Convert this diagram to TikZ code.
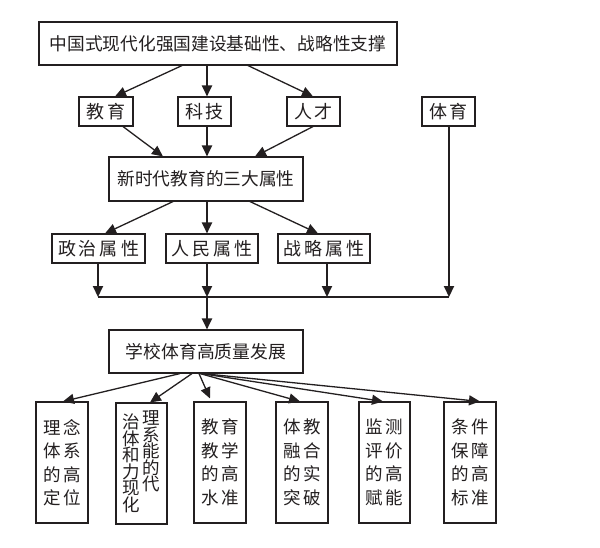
\documentclass[tikz,border=0pt]{standalone}
\usepackage{fontspec}
\newfontfamily\cjk{Noto Sans CJK SC}
\usetikzlibrary{arrows.meta,calc}
\newcommand\gp{\hspace{3pt}}
\newcommand\bg{\hspace{2.5pt}}
\newcommand\up[1]{\raisebox{4pt}[0pt][0pt]{#1}}
\newcommand\tightlines{\lineskip=0pt\lineskiplimit=-20pt\relax}
\definecolor{ink}{RGB}{35,31,32}
\begin{document}
\begin{tikzpicture}[x=1pt,y=-1pt,
  box/.style={draw=ink,line width=1.1pt,inner sep=0pt,text=ink},
  small/.style={box,minimum height=29pt,font=\cjk\fontsize{18}{20}\selectfont},
  arr/.style={draw=ink,line width=1.3pt,-{Triangle[length=11pt,width=10pt]}},
  varr/.style={draw=ink,line width=2pt,-{Triangle[length=11pt,width=10pt]}},
  tall/.style={box,minimum height=121pt,align=left,font=\cjk\fontsize{17.5}{23.5}\selectfont}]
\useasboundingbox[fill=white] (0,0) rectangle (600,547);
% nodes
\node[box,minimum width=358pt,minimum height=43pt,font=\cjk\fontsize{17.7}{19}\selectfont] (top) at (218,43.5) {中国式现代化强国建设基础性、战略性支撑};
\node[small,minimum width=54pt] (jy) at (106,111.5) {教\gp 育};
\node[small,minimum width=53pt] (kj) at (204.5,111.5) {科\gp 技};
\node[small,minimum width=53pt] (rc) at (313.5,111.5) {人\gp 才};
\node[small,minimum width=53pt] (ty) at (448.5,111.5) {体\gp 育};
\node[box,minimum width=194pt,minimum height=44pt,font=\cjk\fontsize{17.7}{20}\selectfont] (sx) at (206,179) {新时代教育的三大属性};
\node[small,minimum width=93pt] (zz) at (98.5,248.5) {政\gp 治\gp 属\gp 性};
\node[small,minimum width=92pt] (rm) at (212,248.5) {人\gp 民\gp 属\gp 性};
\node[small,minimum width=92pt] (zl) at (324,248.5) {战\gp 略\gp 属\gp 性};
\node[box,minimum width=194pt,minimum height=43pt,font=\cjk\fontsize{17.8}{20}\selectfont] (xx) at (206,351.5) {学校体育高质量发展};
\node[tall,minimum width=52pt] (b1) at (62,462.5) {理\bg 念\\体\bg 系\\的\bg 高\\定\bg 位};
\node[tall,minimum width=51pt,font=\cjk\fontsize{17.5}{16.5}\selectfont\tightlines] (b2) at (141.5,463.5) {治\bg\up{理}\\体\bg\up{系}\\和\bg\up{能}\\力\bg\up{的}\\现\bg\up{代}\\化};
\node[tall,minimum width=52pt] (b3) at (220,462.5) {教\bg 育\\教\bg 学\\的\bg 高\\水\bg 准};
\node[tall,minimum width=52pt] (b4) at (302,462.5) {体\bg 教\\融\bg 合\\的\bg 实\\突\bg 破};
\node[tall,minimum width=51pt] (b5) at (384.5,462.5) {监\bg 测\\评\bg 价\\的\bg 高\\赋\bg 能};
\node[tall,minimum width=52pt] (b6) at (470,462.5) {条\bg 件\\保\bg 障\\的\bg 高\\标\bg 准};
% bus coordinates
\coordinate (bL) at (98,297);
\coordinate (bM) at (207,297);
\coordinate (bZ) at (327,297);
\coordinate (bR) at (449,297);
% arrows top -> row2
\draw[arr] ($(top.south)+(-36,0)$) -- ($(jy.north)+(9,0)$);
\draw[varr] ($(top.south)+(-11,0)$) -- ($(kj.north)+(2.5,0)$);
\draw[arr] ($(top.south)+(30,0)$) -- ($(rc.north)+(-0.5,0)$);
% row2 -> sx
\draw[arr] ($(jy.south)+(17,0)$) -- ($(sx.north)+(-43,0)$);
\draw[varr] ($(kj.south)+(2.5,0)$) -- ($(sx.north)+(1,0)$);
\draw[arr] ($(rc.south)+(-0.5,0)$) -- ($(sx.north)+(49,0)$);
% sx -> row4
\draw[arr] ($(sx.south)+(-33,0)$) -- ($(zz.north)+(6.5,0)$);
\draw[varr] ($(sx.south)+(1,0)$) -- ($(rm.north)+(-5,0)$);
\draw[arr] ($(sx.south)+(44,0)$) -- ($(zl.north)+(-6,0)$);
% row4 -> bus
\draw[varr] (zz.south -| bL) -- (bL);
\draw[varr] (rm.south -| bM) -- (bM);
\draw[varr] (zl.south -| bZ) -- (bZ);
\draw[varr] (ty.south -| bR) -- (bR);
\draw[draw=ink,line width=1.3pt] (bL) -- (bR);
\draw[varr] (bM) -- (xx.north -| bM);
% xx -> bottom
\draw[arr] ($(xx.south)+(-26,0)$) -- ($(b1.north)+(1,0)$);
\draw[arr] ($(xx.south)+(-14,0)$) -- ($(b2.north)+(8.5,0)$);
\draw[arr] ($(xx.south)+(-7,0)$) -- ($(b3.north)+(-10,-3)$);
\draw[arr] ($(xx.south)+(-6,0)$) -- ($(b4.north)+(-2,0)$);
\draw[arr] ($(xx.south)+(-5,0)$) -- ($(b5.north)+(-1.5,0)$);
\draw[arr] ($(xx.south)+(-4,0)$) -- ($(b6.north)+(10,0)$);
\end{tikzpicture}
\end{document}
